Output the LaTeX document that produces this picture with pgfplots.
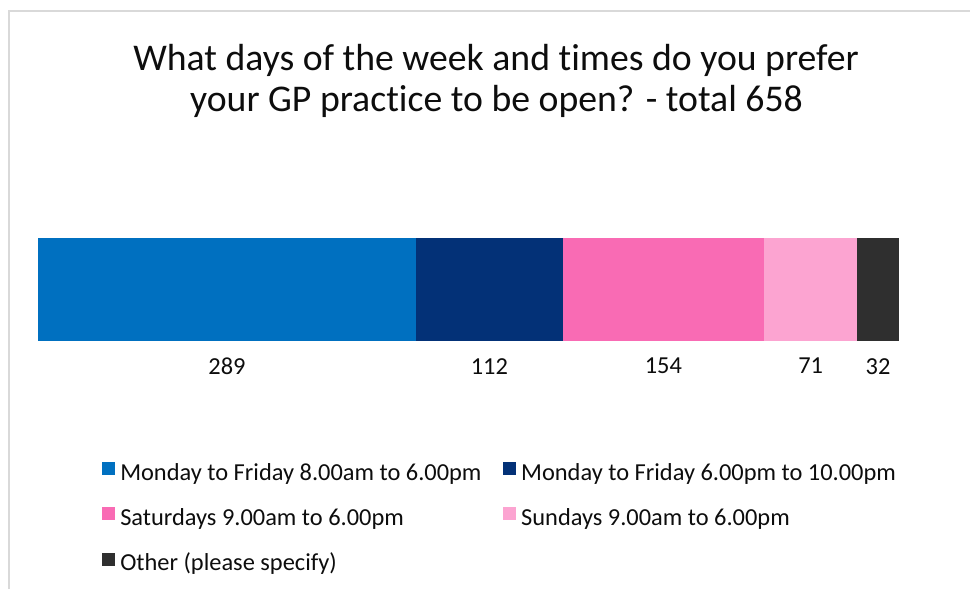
\documentclass[border=0pt]{standalone}
\usepackage{pgfplots}
\pgfplotsset{compat=1.18}
\usepackage{fontspec}
\setmainfont{Carlito}[Ligatures=NoCommon]
\definecolor{cBlue}{RGB}{0,112,192}
\definecolor{cNavy}{RGB}{3,49,119}
\definecolor{cPink}{RGB}{249,107,180}
\definecolor{cLPink}{RGB}{252,164,209}
\definecolor{cDark}{RGB}{47,47,47}
\definecolor{cBorder}{RGB}{217,217,217}
\definecolor{cText}{RGB}{13,13,13}
\begin{document}
\begin{tikzpicture}[x=0.75pt,y=0.75pt]
\useasboundingbox (0,0) rectangle (970,589);
\draw[cBorder, line width=1.5pt] (8.5,0) -- (8.5,577.5) -- (970,577.5);
\node[font=\fontsize{28.3}{33}\selectfont, text=cText, anchor=base] at (496,518) {What days of the week and times do you prefer};
\node[font=\fontsize{28.3}{33}\selectfont, text=cText, anchor=base] at (496.5,477) {your GP practice to be open? - total 658};
\begin{axis}[
  at={(29,240.5)}, anchor=south west,
  width=645.75pt, height=77.25pt, scale only axis,
  xmin=0, xmax=658, ymin=-0.5, ymax=0.5,
  hide axis,
  xbar stacked, bar width=77.25pt,
  legend image code/.code={\fill[#1] (0pt,0pt) rectangle (9.75pt,9.75pt);},
  legend columns=2,
  legend cell align=left,
  legend style={
    at={(rel axis cs:0.07433,-1.172)}, anchor=north west,
    draw=none, fill=none, inner sep=0pt, outer sep=0pt,
    font=\fontsize{18.3}{22}\selectfont, text=cText,
    nodes={inner sep=0pt, text height=12pt, text depth=4pt},
    row sep=16.2pt,
    /tikz/every odd column/.append style={column sep=4pt},
    /tikz/every even column/.append style={column sep=16pt},
  },
]
\addplot[fill=cBlue, draw=none] coordinates {(289,0)};
\addlegendentry{Monday to Friday 8.00am to 6.00pm}
\addplot[fill=cNavy, draw=none] coordinates {(112,0)};
\addlegendentry{Monday to Friday 6.00pm to 10.00pm}
\addplot[fill=cPink, draw=none] coordinates {(154,0)};
\addlegendentry{Saturdays 9.00am to 6.00pm}
\addplot[fill=cLPink, draw=none] coordinates {(71,0)};
\addlegendentry{Sundays 9.00am to 6.00pm}
\addplot[fill=cDark, draw=none] coordinates {(32,0)};
\addlegendentry{Other (please specify)}
\end{axis}
\begin{axis}[
  at={(29,240.5)}, anchor=south west,
  width=645.75pt, height=77.25pt, scale only axis,
  xmin=0, xmax=658, ymin=-0.5, ymax=0.5,
  hide axis,
]
\addplot[draw=none, mark=none, nodes near coords, point meta=explicit symbolic,
  every node near coord/.style={anchor=north, inner sep=0pt, yshift=-12.5pt,
    font=\fontsize{18.3}{22}\selectfont, text=cText}]
  coordinates {(144.5,-0.5)[289] (345,-0.5)[112] (478,-0.5)[154] (590.5,-0.5)[71] (642,-0.5)[32]};
\end{axis}
\end{tikzpicture}
\end{document}
